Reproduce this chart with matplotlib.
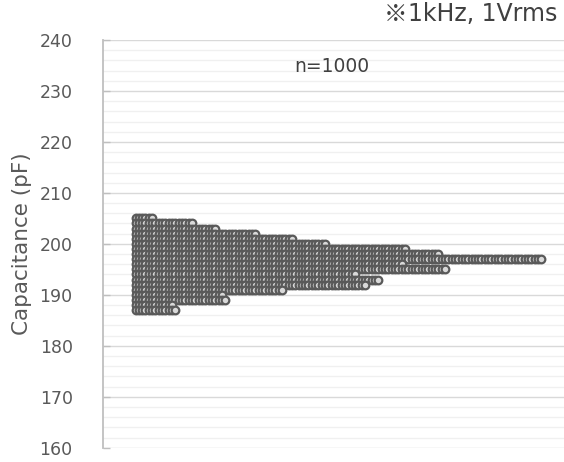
import matplotlib
matplotlib.use("Agg")
import matplotlib.pyplot as plt
from matplotlib.ticker import MultipleLocator

# Data: capacitance value (pF) and number of samples at that value
values = [205, 204, 203, 202, 201, 200, 199, 198, 197, 196,
          195, 194, 193, 192, 191, 190, 189, 188, 187]
counts = [6, 18, 25, 37, 48, 58, 82, 92, 123, 81,
          94, 67, 74, 70, 45, 27, 28, 12, 13]
y_ticks = [160, 170, 180, 190, 200, 210, 220, 230, 240]
y_label = "Capacitance (pF)"
note_mark = "※"
note = "1kHz, 1Vrms"
n_label = "n=1000"

text_col = "#595959"
plt.rcParams['font.family'] = ['DejaVu Sans', 'Noto Sans CJK JP']

W, H = 564, 462
fig = plt.figure(figsize=(W / 100, H / 100), dpi=100)
ax = fig.add_axes([102.5 / W, 1 - 447.7 / H, (564 - 102.5) / W, (447.7 - 40) / H])

for v, c in zip(values, counts):
    xs = list(range(c))
    ax.plot(xs, [v] * c, linestyle='none', marker='o', markersize=5.5,
            markerfacecolor='#d9d9d9', markeredgecolor='#595959',
            markeredgewidth=1.6, zorder=3)

ax.set_xlim(-9.92, 128.8)
ax.set_ylim(160, 240)
ax.yaxis.set_major_locator(MultipleLocator(10))
ax.yaxis.set_minor_locator(MultipleLocator(2))
ax.set_yticks(y_ticks)
ax.set_yticklabels([str(t) for t in y_ticks])
ax.grid(which='minor', axis='y', color='#f0f0f0', linewidth=1.0, zorder=0)
ax.grid(which='major', axis='y', color='#d9d9d9', linewidth=1.0, zorder=0)
ax.set_axisbelow(True)
ax.tick_params(axis='y', which='major', direction='in', length=5, width=1,
               color='#bfbfbf', labelsize=12.5, labelcolor=text_col, pad=21.5)
ax.tick_params(axis='y', which='minor', length=0)
ax.tick_params(axis='x', bottom=False, labelbottom=False)
for s in ['top', 'right', 'bottom']:
    ax.spines[s].set_visible(False)
ax.spines['left'].set_color('#bfbfbf')
ax.spines['left'].set_linewidth(1.3)

ax.set_ylabel(y_label, fontsize=15.5, color=text_col)
ax.yaxis.set_label_coords(-0.152, 0.5)

t_main = fig.text(557 / W, 1 - 21 / H, note, ha='right', va='baseline',
                  fontsize=17, color='#404040')
fig.canvas.draw()
bb = t_main.get_window_extent(renderer=fig.canvas.get_renderer())
fig.text(bb.x0 / W, 1 - 21 / H, note_mark, ha='right', va='baseline',
         fontsize=17, color='#404040', family=['Noto Sans CJK JP', 'DejaVu Sans'])

ax.text((332 - 102.5) / (564 - 102.5), 1 - (66 - 40) / (447.7 - 40), n_label,
        transform=ax.transAxes, ha='center', va='center',
        fontsize=13.5, color='#404040')

fig.savefig("out.png", dpi=100)
